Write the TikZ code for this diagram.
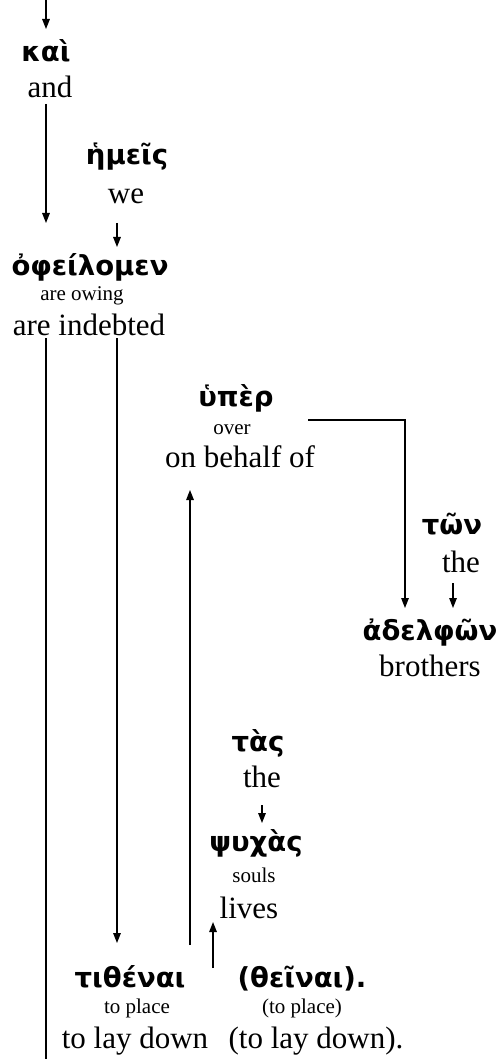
\documentclass[tikz,border=0pt]{standalone}
\usepackage{fontspec}
\setmainfont{Liberation Serif}
\newfontfamily\grk{DejaVu Sans}
\usetikzlibrary{arrows.meta,calc}
\begin{document}
\begin{tikzpicture}[x=1pt,y=-1pt,
  gk/.style={font=\grk\bfseries\fontsize{27.5}{27.5}\selectfont, anchor=base, inner sep=0pt},
  en/.style={font=\fontsize{31}{31}\selectfont, anchor=base, inner sep=0pt},
  sm/.style={font=\fontsize{21}{21}\selectfont, anchor=base, inner sep=0pt},
  arr/.style={-{Triangle[length=10pt,width=7.5pt]}, line width=1.4pt},
  ln/.style={line width=1.4pt}]
\useasboundingbox (0,0) rectangle (496,1059);
% nodes
\node[gk] (kai) at (46,62) {καὶ};
\node[en] (and) at (50,98) {and};
\node[gk] (hemeis) at (127,165) {ἡμεῖς};
\node[en] (we) at (126,204) {we};
\node[gk] (opheil) at (90,275) {ὀφείλομεν};
\node[sm] (owing) at (82,300) {are owing};
\node[en] (indebted) at (89,335) {are indebted};
\node[gk] (hyper) at (236,406) {ὑπὲρ};
\node[sm] (over) at (232,434) {over};
\node[en] (behalf) at (240,467) {on behalf of};
\node[gk] (ton) at (452,534) {τῶν};
\node[en] (the1) at (461,572) {the};
\node[gk] (adelph) at (430,640) {ἀδελφῶν};
\node[en] (brothers) at (430,676) {brothers};
\node[gk] (tas) at (258,751) {τὰς};
\node[en] (the2) at (262,787) {the};
\node[gk] (psych) at (256,851) {ψυχὰς};
\node[sm] (souls) at (254,882) {souls};
\node[en] (lives) at (249,918) {lives};
\node[gk] (tith) at (130,987) {τιθέναι};
\node[sm] (place1) at (137,1013) {to place};
\node[en] (lay1) at (135,1048) {to lay down};
\node[gk] (thein) at (302,987) {(θεῖναι).};
\node[sm] (place2) at (302,1013) {(to place)};
\node[en] (lay2) at (316,1048) {(to lay down).};
% coordinates for free ends and columns
\coordinate (top) at (46,0);
\coordinate (bot) at (46,1059);
\coordinate (c2) at (117,0);
\coordinate (c3) at (190,0);
\coordinate (c4) at (213,0);
\coordinate (c5) at (405,0);
\coordinate (c6) at (453,0);
\coordinate (c7) at (262,0);
% connectors
\draw[arr] (top) -- ($(top |- kai.base)+(0,-33)$);
\draw[arr] ($(top |- and.base)+(0,6)$) -- ($(top |- opheil.base)+(0,-52)$);
\draw[arr] ($(c2 |- we.base)+(0,19)$) -- ($(c2 |- opheil.base)+(0,-28)$);
\draw[ln] ($(top |- indebted.base)+(0,3)$) -- (bot);
\draw[arr] ($(c2 |- indebted.base)+(0,3)$) -- ($(c2 |- tith.base)+(0,-44)$);
\draw[arr] ($(hyper.base)+(72,14)$) -| ($(c5 |- adelph.base)+(0,-32)$);
\draw[arr] ($(c6 |- the1.base)+(0,11)$) -- ($(c6 |- adelph.base)+(0,-32)$);
\draw[arr] ($(c7 |- the2.base)+(0,18)$) -- ($(c7 |- psych.base)+(0,-28)$);
\draw[arr] ($(c3 |- tith.base)+(0,-42)$) -- ($(c3 |- behalf.base)+(0,23)$);
\draw[arr] ($(c4 |- thein.base)+(0,-19)$) -- ($(c4 |- lives.base)+(0,4)$);
\end{tikzpicture}
\end{document}
